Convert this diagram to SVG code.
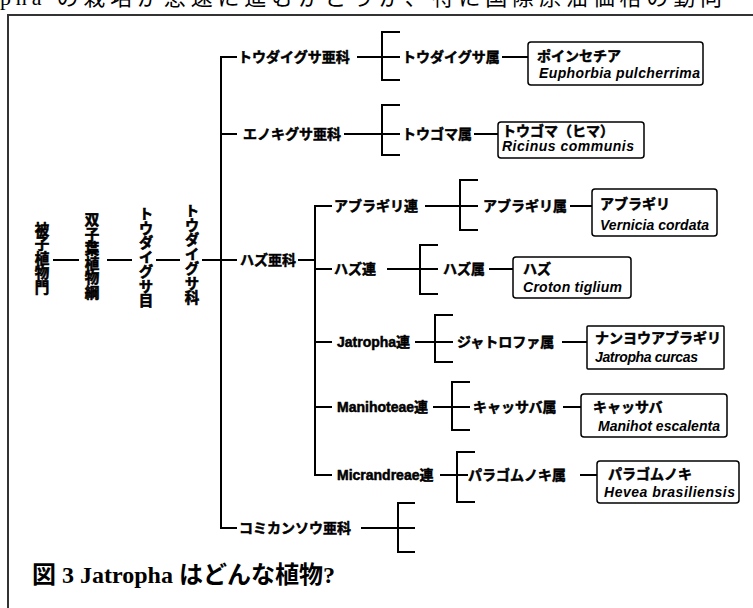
<svg xmlns="http://www.w3.org/2000/svg" width="753" height="608" viewBox="0 0 753 608">
<style>
.ln{stroke:#000;stroke-width:2;fill:none}
.frame{stroke:#333;stroke-width:2;fill:none}
.box{fill:#fff;stroke:#000;stroke-width:1.5}
.lbl{font-family:"Liberation Sans","Noto Sans CJK JP",sans-serif;font-weight:bold;font-size:14px;fill:#000;stroke:#000;stroke-width:0.5}
.sci{font-family:"Liberation Sans",sans-serif;font-weight:bold;font-style:italic;font-size:14px;fill:#000}
.vt{font-family:"Noto Sans CJK JP",sans-serif;font-weight:bold;font-size:14.5px;fill:#000;stroke:#000;stroke-width:0.6;writing-mode:vertical-rl;text-anchor:middle}
.cap{font-family:"Liberation Serif","Noto Sans CJK JP",serif;font-weight:bold;font-size:24px;fill:#000}
.capj{font-family:"Noto Sans CJK JP",sans-serif;font-weight:bold}
.hdr{font-family:"Liberation Serif","Noto Sans CJK JP",serif;font-size:22px;fill:#000}
</style>
<rect width="753" height="608" fill="#fff"/>
<text class="hdr" x="0" y="5" textLength="722" lengthAdjust="spacing">pha の栽培が急速に進むかどうか、特に国際原油価格の動向</text>
<path class="frame" d="M8,608 V15 H753"/>

<g id="connectors">
  <path class="ln" d="M53,260 H79 M107,260 H132 M156,260 H180 M202,260 H237"/>
  <path class="ln" d="M237,57 H221 V528 H237 M221,134 H237"/>
  <path class="ln" d="M357,57 H400 M400,32 H382 V80 H400"/>
  <path class="ln" d="M502,57 H528"/>
  <path class="ln" d="M344,134 H400 M400,105 H382 V155 H400"/>
  <path class="ln" d="M474,134 H498"/>
  <path class="ln" d="M298,260 H315"/>
  <path class="ln" d="M332,206 H315 V475 H332 M315,269 H332 M315,342 H332 M315,407 H332"/>
  <path class="ln" d="M425,206 H478 M478,180 H460 V230 H478"/>
  <path class="ln" d="M570,206 H592"/>
  <path class="ln" d="M387,269 H438 M438,245 H420 V294 H438"/>
  <path class="ln" d="M489,269 H513"/>
  <path class="ln" d="M415,342 H453 M453,315 H435 V362 H453"/>
  <path class="ln" d="M562,342 H587"/>
  <path class="ln" d="M433,407 H470 M470,382 H452 V430 H470"/>
  <path class="ln" d="M563,407 H590"/>
  <path class="ln" d="M440,475 H468 M475,452 H457 V502 H475"/>
  <path class="ln" d="M580,475 H601"/>
  <path class="ln" d="M361,528 H415 M415,503 H398 V552 H415"/>
</g>

<g id="phylum"><text class="vt" x="42" y="258">被子植物門</text></g>
<g id="class"><text class="vt" x="92" y="256">双子葉植物綱</text></g>
<g id="order"><text class="vt" x="146" y="257">トウダイグサ目</text></g>
<g id="family"><text class="vt" x="192" y="254">トウダイグサ科</text></g>

<g id="sf-euphorbioideae"><text class="lbl" x="238" y="62">トウダイグサ亜科</text></g>
<g id="sf-acalyphoideae"><text class="lbl" x="243" y="139">エノキグサ亜科</text></g>
<g id="sf-crotonoideae"><text class="lbl" x="240" y="265">ハズ亜科</text></g>
<g id="sf-phyllanthoideae"><text class="lbl" x="239" y="533">コミカンソウ亜科</text></g>

<g id="g-euphorbia"><text class="lbl" x="402" y="62">トウダイグサ属</text></g>
<g id="g-ricinus"><text class="lbl" x="402" y="139">トウゴマ属</text></g>

<g id="t-aleuritideae"><text class="lbl" x="334" y="211">アブラギリ連</text></g>
<g id="t-crotoneae"><text class="lbl" x="334" y="274">ハズ連</text></g>
<g id="t-jatropheae"><text class="lbl" x="337" y="347">Jatropha連</text></g>
<g id="t-manihoteae"><text class="lbl" x="337" y="412">Manihoteae連</text></g>
<g id="t-micrandreae"><text class="lbl" x="337" y="480">Micrandreae連</text></g>

<g id="g-vernicia"><text class="lbl" x="483" y="211">アブラギリ属</text></g>
<g id="g-croton"><text class="lbl" x="443" y="274">ハズ属</text></g>
<g id="g-jatropha"><text class="lbl" x="457" y="347">ジャトロファ属</text></g>
<g id="g-manihot"><text class="lbl" x="473" y="412">キャッサバ属</text></g>
<g id="g-hevea"><text class="lbl" x="468" y="480">パラゴムノキ属</text></g>

<g id="sp-poinsettia">
  <rect class="box" x="528" y="42" width="175" height="43" rx="3"/>
  <text class="lbl" x="537" y="61">ポインセチア</text>
  <text class="sci" x="539" y="78" textLength="161">Euphorbia pulcherrima</text>
</g>
<g id="sp-ricinus">
  <rect class="box" x="498" y="122" width="146" height="36" rx="3"/>
  <text class="lbl" x="502" y="136">トウゴマ（ヒマ）</text>
  <text class="sci" x="502" y="151" textLength="132">Ricinus communis</text>
</g>
<g id="sp-vernicia">
  <rect class="box" x="592" y="189" width="125" height="47" rx="3"/>
  <text class="lbl" x="600" y="209">アブラギリ</text>
  <text class="sci" x="600" y="230" textLength="109">Vernicia cordata</text>
</g>
<g id="sp-croton">
  <rect class="box" x="513" y="257" width="118" height="41" rx="3"/>
  <text class="lbl" x="523" y="274">ハズ</text>
  <text class="sci" x="523" y="292" textLength="99">Croton tiglium</text>
</g>
<g id="sp-jatropha">
  <rect class="box" x="587" y="326" width="137" height="43" rx="1"/>
  <text class="lbl" x="595" y="343">ナンヨウアブラギリ</text>
  <text class="sci" x="595" y="362" textLength="103">Jatropha curcas</text>
</g>
<g id="sp-manihot">
  <rect class="box" x="581" y="394" width="146" height="43" rx="3"/>
  <text class="lbl" x="593" y="412">キャッサバ</text>
  <text class="sci" x="598" y="431" textLength="122">Manihot escalenta</text>
</g>
<g id="sp-hevea">
  <rect class="box" x="597" y="461" width="142" height="42" rx="3"/>
  <text class="lbl" x="608" y="479">パラゴムノキ</text>
  <text class="sci" x="604" y="497" textLength="131">Hevea brasiliensis</text>
</g>

<text class="cap" x="32" y="583"><tspan class="capj">図</tspan> 3 Jatropha <tspan class="capj">はどんな植物</tspan>?</text>
</svg>
